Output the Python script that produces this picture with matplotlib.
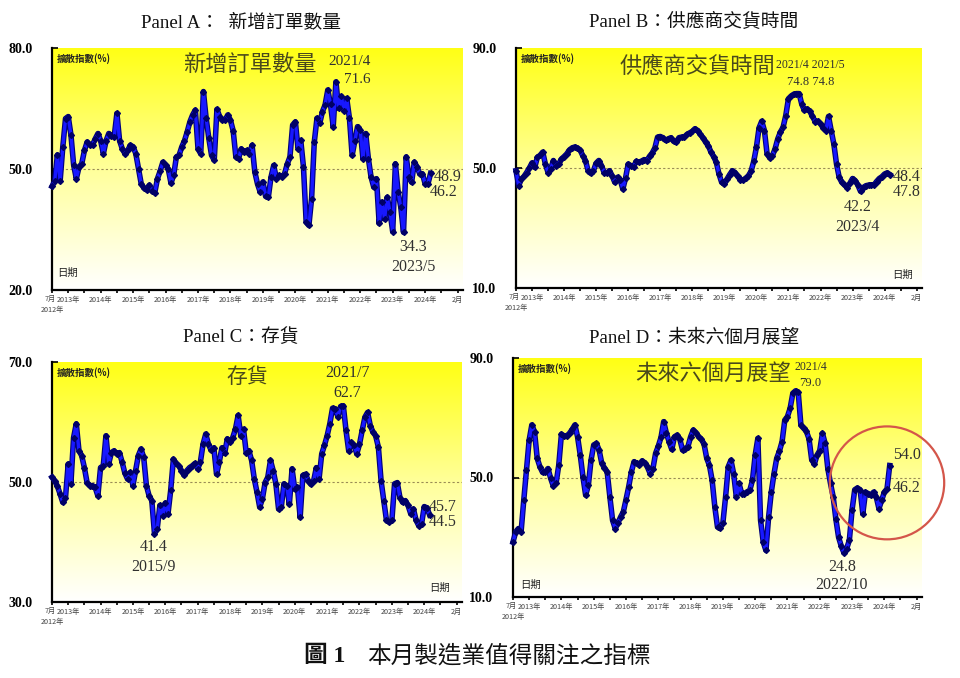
import numpy as np
import matplotlib
matplotlib.use('Agg')
import matplotlib.pyplot as plt
from matplotlib.patches import Ellipse
from matplotlib.colors import LinearSegmentedColormap

plt.rcParams['font.family'] = ['Liberation Serif', 'Noto Sans CJK TC']

# monthly diffusion index, 2012/7 .. 2024/3 (one row per year)
new_orders = [
    45.7, 47.0, 53.5, 47.0, 55.5, 62.5,
    63.0, 58.5, 51.0, 47.6, 50.5, 51.3, 54.6, 56.7, 56.0, 56.0, 57.5, 58.8,
    57.0, 53.8, 57.0, 58.8, 58.3, 58.0, 63.8, 57.0, 55.0, 53.8, 54.6, 55.9,
    55.5, 53.8, 50.1, 46.3, 45.3, 44.8, 46.0, 44.5, 44.1, 47.6, 49.5, 51.7,
    51.0, 50.0, 46.5, 48.5, 53.0, 53.4, 55.5, 57.0, 59.2, 61.7, 63.4, 64.6,
    55.0, 53.8, 69.2, 62.6, 57.6, 53.4, 52.2, 64.8, 63.0, 62.1, 62.1, 63.4,
    62.1, 59.5, 53.0, 52.6, 55.0, 54.2, 54.6, 53.8, 55.9, 49.3, 46.3, 44.3,
    46.8, 43.2, 43.0, 48.0, 50.9, 47.6, 48.4, 48.0, 48.8, 51.2, 53.0, 60.9,
    61.7, 55.0, 57.1, 50.5, 36.8, 36.0, 42.6, 56.7, 62.6, 61.3, 64.2, 65.9,
    69.6, 66.0, 60.5, 71.6, 65.0, 68.0, 64.5, 67.5, 62.6, 53.4, 57.0, 60.5,
    59.6, 52.6, 58.8, 52.6, 48.0, 45.5, 47.6, 36.5, 41.8, 37.6, 43.0, 39.3,
    34.5, 51.3, 44.3, 40.5, 34.3, 53.0, 48.0, 46.7, 51.7, 50.5, 48.8, 48.8,
    46.3, 46.2, 48.9,
]

delivery = [
    49.1, 44.1, 46.3, 47.2, 48.5, 50.0,
    51.7, 50.2, 53.6, 54.2, 55.3, 51.3, 48.5, 49.7, 52.5, 50.8, 51.3, 53.0,
    53.8, 54.7, 56.0, 56.7, 57.0, 56.7, 56.0, 54.1, 52.5, 49.1, 48.2, 49.1,
    51.6, 52.5, 50.8, 48.5, 48.2, 49.1, 47.4, 45.2, 46.9, 46.1, 43.0, 46.6,
    51.3, 50.8, 50.4, 52.2, 51.9, 52.3, 52.8, 52.5, 53.9, 55.0, 56.7, 60.3,
    60.5, 60.1, 59.2, 59.7, 60.1, 58.9, 58.6, 60.1, 60.3, 60.3, 61.2, 61.7,
    62.2, 63.1, 62.5, 61.2, 60.1, 58.6, 57.4, 55.3, 53.8, 51.9, 48.0, 45.2,
    44.6, 46.3, 47.8, 49.1, 48.5, 47.2, 46.1, 46.0, 46.6, 47.4, 48.9, 52.2,
    56.9, 63.4, 65.6, 62.5, 54.7, 53.4, 54.1, 56.4, 59.7, 62.0, 63.6, 67.5,
    73.1, 74.0, 74.6, 74.8, 74.8, 71.2, 69.2, 69.7, 68.9, 67.2, 65.5, 65.6,
    64.7, 63.4, 62.5, 67.2, 62.5, 58.0, 51.3, 46.9, 45.2, 44.3, 43.5, 44.9,
    46.5, 45.8, 44.3, 42.2, 43.5, 44.1, 44.3, 44.4, 44.3, 45.5, 46.5, 47.1,
    48.0, 48.4, 47.8,
]

inventory = [
    50.8, 50.2, 49.3, 48.0, 46.6, 47.4,
    53.0, 49.7, 57.4, 59.7, 55.2, 54.4, 52.4, 49.9, 49.4, 49.4, 49.1, 47.7,
    52.4, 52.7, 57.7, 53.0, 54.9, 55.2, 54.7, 54.9, 53.3, 51.5, 50.5, 51.6,
    49.4, 51.9, 54.4, 55.5, 54.1, 49.4, 47.7, 46.9, 41.4, 42.2, 46.1, 44.4,
    46.5, 44.7, 48.6, 53.8, 53.1, 52.7, 51.9, 51.1, 51.9, 52.4, 52.7, 53.1,
    52.2, 53.3, 56.3, 58.0, 56.3, 55.3, 55.7, 51.3, 53.3, 55.7, 54.8, 57.2,
    56.6, 57.4, 58.8, 61.1, 57.7, 58.8, 54.9, 55.2, 53.6, 50.5, 48.3, 45.8,
    47.2, 49.9, 50.8, 53.6, 51.9, 49.7, 45.5, 45.8, 49.7, 49.4, 46.3, 52.2,
    48.8, 49.1, 44.1, 51.1, 51.3, 50.2, 49.6, 50.2, 52.4, 50.5, 54.7, 56.1,
    57.7, 59.7, 62.3, 62.2, 60.9, 62.6, 62.7, 58.6, 55.2, 56.6, 56.1, 54.7,
    56.3, 58.6, 60.8, 61.6, 59.4, 58.3, 57.7, 55.8, 50.2, 46.9, 43.6, 43.3,
    43.6, 49.7, 49.9, 47.4, 46.6, 46.9, 46.1, 44.7, 45.5, 43.6, 42.7, 43.0,
    45.9, 45.7, 44.5,
]

outlook = [
    28.4, 31.8, 32.9, 31.8, 42.4, 52.5,
    62.5, 67.6, 65.3, 56.4, 53.6, 51.7, 51.9, 53.0, 49.7, 47.1, 48.0, 54.1,
    64.5, 63.9, 63.9, 64.8, 66.1, 67.6, 63.6, 57.5, 50.2, 44.1, 47.4, 55.8,
    60.9, 61.4, 59.2, 54.7, 53.2, 51.9, 43.5, 35.7, 32.9, 34.8, 36.8, 38.5,
    42.6, 46.9, 51.9, 55.3, 54.7, 54.1, 55.6, 54.9, 53.4, 51.3, 53.0, 58.1,
    60.5, 63.4, 68.7, 64.8, 62.0, 59.4, 63.6, 64.2, 62.8, 59.2, 59.7, 60.3,
    63.6, 65.9, 65.0, 63.6, 62.8, 61.2, 56.4, 54.1, 49.1, 40.2, 33.4, 33.1,
    34.8, 43.5, 53.6, 55.8, 51.3, 43.5, 48.0, 44.6, 44.6, 45.2, 45.7, 49.1,
    57.5, 63.1, 35.7, 28.4, 25.6, 36.8, 45.2, 51.3, 56.4, 58.8, 62.0, 69.2,
    70.4, 73.2, 78.2, 79.0, 78.5, 67.5, 66.5, 65.5, 63.0, 56.0, 54.5, 57.5,
    59.0, 64.8, 61.4, 53.0, 48.0, 43.5, 36.0, 30.0, 27.0, 24.8, 26.2, 29.0,
    39.1, 45.9, 46.5, 45.9, 37.9, 45.1, 44.6, 44.0, 45.1, 43.5, 39.6, 42.4,
    45.1, 46.2, 54.0,
]

# x axis: first month label is split out ("7月" / "2012年"), the rest sit on the ticks
year_labels = [''] + [f'{y}年' for y in range(2013, 2025)] + ['2月']
year_ticks = [0] + list(range(6, 139, 12)) + [150]

W, H = 960, 678
fig = plt.figure(figsize=(W / 100, H / 100), dpi=100)

grad_cmap = LinearSegmentedColormap.from_list('yw', ['#ffffff', '#ffff9a', '#ffff14'])
CJK = ['Noto Sans CJK TC']
SERIF = ['Liberation Serif', 'Noto Sans CJK TC']
TXT = '#303030'


def px_axes(x0, y0, x1, y1):
    return fig.add_axes([x0 / W, 1 - y1 / H, (x1 - x0) / W, (y1 - y0) / H])


def draw_panel(ax, values, ymin, ymax):
    x = np.arange(len(values))
    grad = np.linspace(0, 1, 256).reshape(-1, 1)
    ax.imshow(grad, extent=[0, 152, ymin, ymax], origin='lower', aspect='auto',
              cmap=grad_cmap, zorder=0)
    ax.axhline(50, color='#9a8c55', lw=0.8, ls=(0, (2, 2)), zorder=1)
    ax.plot(x, values, color='#00007a', lw=4.0, zorder=3, clip_on=False)
    ax.plot(x, values, color='#1818ff', lw=2.4, zorder=4, clip_on=False)
    ax.plot(x, values, 'D', ms=3.0, color='#000066', zorder=5, clip_on=False)
    ax.set_xlim(0, 152)
    ax.set_ylim(ymin, ymax)
    for s in ['top', 'right']:
        ax.spines[s].set_visible(False)
    for s in ['left', 'bottom']:
        ax.spines[s].set_linewidth(1.6)
    ax.set_yticks([ymin, 50, ymax])
    ax.set_yticklabels([f'{v:.1f}' for v in [ymin, 50, ymax]],
                       fontsize=10, fontweight='bold', family=SERIF)
    ax.tick_params(axis='y', direction='in', length=4, pad=14, width=1.2)
    ax.set_xticks(year_ticks)
    ax.set_xticklabels(year_labels, fontsize=5.2, family=CJK, color='#444444')
    ax.set_xticks(range(0, 151, 6), minor=True)
    ax.tick_params(axis='x', which='both', direction='out', length=2, width=1.2, pad=2)
    lab_kw = dict(xycoords=('data', 'axes fraction'), textcoords='offset pixels',
                  fontsize=5.2, family=CJK, color='#444444', va='center',
                  annotation_clip=False)
    ax.annotate('7月', xy=(0, 0), xytext=(4, -9), ha='right', **lab_kw)
    ax.annotate('2012年', xy=(0, 0), xytext=(0, -20), ha='center', **lab_kw)
    ax.text(0.012, 0.955, '擴散指數(%)', transform=ax.transAxes, fontsize=6.8,
            fontweight='bold', family=CJK, color='#222222', va='center', ha='left')


def note(ax, text, i, v, dx, dy, size=11.5):
    ax.annotate(text, xy=(i, v), xytext=(dx, dy), textcoords='offset pixels',
                ha='center', va='center', fontsize=size, color=TXT, family=SERIF,
                annotation_clip=False, zorder=6)


n = len(new_orders)

# Panel A
axA = px_axes(52, 48, 463, 290)
draw_panel(axA, new_orders, 20, 80)
axA.text(0.482, 0.93, '新增訂單數量', transform=axA.transAxes, fontsize=16,
         family=CJK, color='#4a4a1c', ha='center', va='center')
axA.text(0.012, 0.07, '日期', transform=axA.transAxes, fontsize=7.5,
         family=CJK, color='#222222', ha='left', va='center')
note(axA, '2021/4', 105, new_orders[105], 14, 20, 11)
note(axA, '71.6', 105, new_orders[105], 21, 2, 11)
note(axA, '34.3', 130, new_orders[130], 10, -15)
note(axA, '2023/5', 130, new_orders[130], 10, -35)
note(axA, '48.9', n - 1, new_orders[-1], 17, -4)
note(axA, '46.2', n - 1, new_orders[-1], 13, -19)

# Panel B
axB = px_axes(516, 48, 922, 288)
draw_panel(axB, delivery, 10, 90)
axB.text(0.446, 0.925, '供應商交貨時間', transform=axB.transAxes, fontsize=16,
         family=CJK, color='#4a4a1c', ha='center', va='center')
axB.text(0.951, 0.054, '日期', transform=axB.transAxes, fontsize=7.5,
         family=CJK, color='#222222', ha='center', va='center')
note(axB, '2021/4 2021/5', 105, delivery[105], 14, 29, 8.5)
note(axB, '74.8 74.8', 105, delivery[105], 14, 12, 9)
note(axB, '42.2', 129, delivery[129], -3, -16)
note(axB, '2023/4', 129, delivery[129], -3, -36)
note(axB, '48.4', n - 1, delivery[-1], 17, -2)
note(axB, '47.8', n - 1, delivery[-1], 17, -17)

# Panel C
axC = px_axes(52, 362, 462, 602)
draw_panel(axC, inventory, 30, 70)
axC.text(0.476, 0.9375, '存貨', transform=axC.transAxes, fontsize=15,
         family=CJK, color='#4a4a1c', ha='center', va='center')
axC.text(0.946, 0.058, '日期', transform=axC.transAxes, fontsize=7.5,
         family=CJK, color='#222222', ha='center', va='center')
note(axC, '2021/7', 108, inventory[108], 4, 33)
note(axC, '62.7', 108, inventory[108], 4, 13)
note(axC, '41.4', 38, inventory[38], -1, -13)
note(axC, '2015/9', 38, inventory[38], -1, -33)
note(axC, '45.7', n - 1, inventory[-1], 13, 8)
note(axC, '44.5', n - 1, inventory[-1], 13, -7)

# Panel D
axD = px_axes(513, 358, 922, 597)
draw_panel(axD, outlook, 10, 90)
axD.text(0.489, 0.937, '未來六個月展望', transform=axD.transAxes, fontsize=16,
         family=CJK, color='#4a4a1c', ha='center', va='center')
axD.text(0.042, 0.05, '日期', transform=axD.transAxes, fontsize=7.5,
         family=CJK, color='#222222', ha='center', va='center')
note(axD, '2021/4', 105, outlook[105], 15, 24, 8.5)
note(axD, '79.0', 105, outlook[105], 15, 8, 9)
note(axD, '24.8', 123, outlook[123], -2, -14)
note(axD, '2022/10', 123, outlook[123], -2, -32)
note(axD, '54.0', n - 1, outlook[-1], 17, 11)
note(axD, '46.2', n - 1, outlook[-1], 17, -22)
axD.add_patch(Ellipse((n - 2, 48.2), 42.5, 37.8, fill=False, ec='#d4564a',
                      lw=1.6, clip_on=False, zorder=7))

# panel titles
title_kw = dict(fontsize=13.5, family=SERIF, color='#111111', ha='center', va='center')
fig.text(241 / W, 1 - 22 / H, 'Panel A：  新增訂單數量', **title_kw)
fig.text(694 / W, 1 - 22 / H, 'Panel B：供應商交貨時間', **title_kw)
fig.text(241 / W, 1 - 337 / H, 'Panel C：存貨', **title_kw)
fig.text(694 / W, 1 - 337 / H, 'Panel D：未來六個月展望', **title_kw)

# caption
fig.text(345 / W, 1 - 656 / H, '圖 1', fontsize=17, fontweight='bold', family=SERIF,
         color='#111111', ha='right', va='center')
fig.text(367 / W, 1 - 656 / H, '本月製造業值得關注之指標', fontsize=17, family=CJK,
         color='#111111', ha='left', va='center')

fig.savefig('out.png', dpi=100)
